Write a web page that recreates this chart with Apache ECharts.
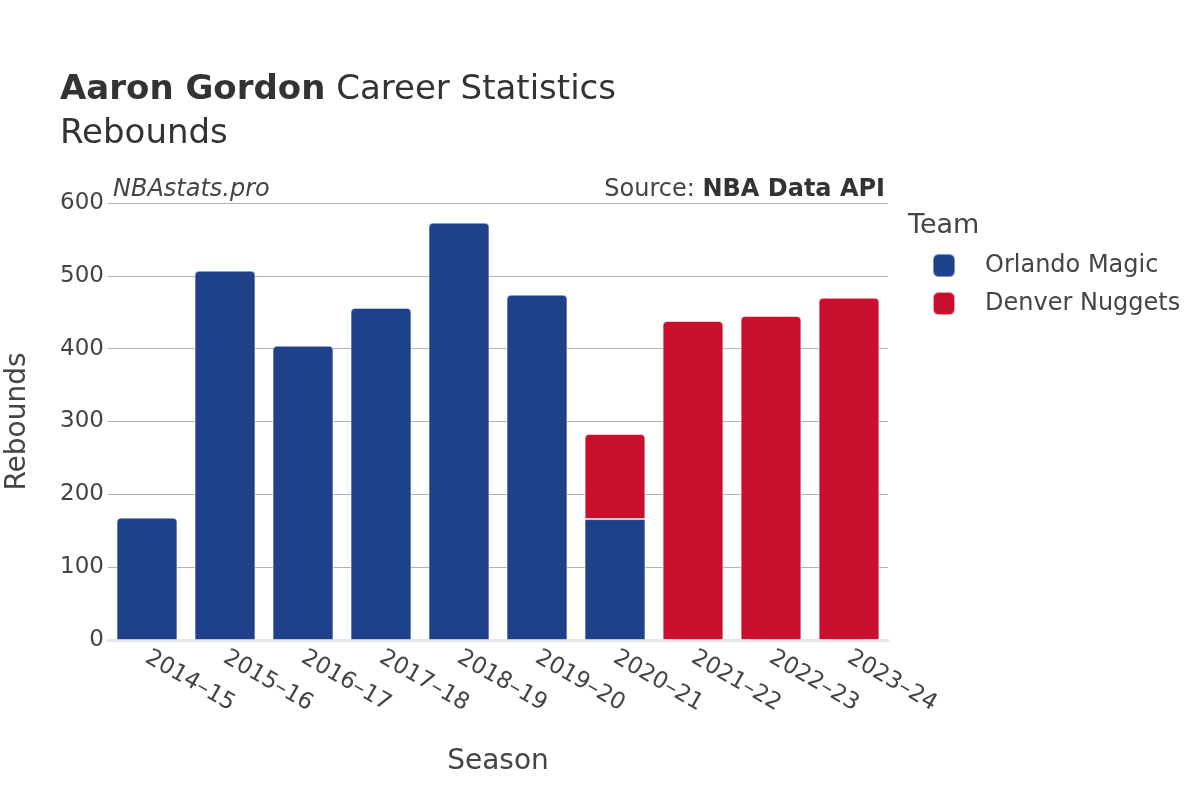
<!DOCTYPE html>
<html>
<head>
<meta charset="utf-8">
<script src="https://cdn.jsdelivr.net/npm/echarts@6/dist/echarts.min.js"></script>
<style>
html,body{margin:0;padding:0;background:#fff;}
#chart{width:1200px;height:800px;}
</style>
</head>
<body>
<div id="chart"></div>
<script>
const seasons = ['2014–15','2015–16','2016–17','2017–18','2018–19','2019–20','2020–21','2021–22','2022–23','2023–24'];
const orlandoMagic = [168, 507, 404, 456, 573, 474, 166, null, null, null];
const denverNuggets = [null, null, null, null, null, null, 117, 438, 445, 470];
const yTicks = [0, 100, 200, 300, 400, 500, 600];

const ORL = '#1d428a';
const DEN = '#c8102e';
const FONT = '"DejaVu Sans", "Open Sans", sans-serif';

function items(arr, isTopFn) {
  return arr.map((v, i) => {
    if (v === null) return null;
    return { value: v, itemStyle: { borderRadius: isTopFn(i) ? [4,4,0,0] : 0 } };
  });
}
const orlData = items(orlandoMagic, i => denverNuggets[i] === null);
const denData = items(denverNuggets, i => true);

const chart = echarts.init(document.getElementById('chart'));
chart.setOption({
  animation: false,
  textStyle: { fontFamily: FONT },
  grid: { left: 108, right: 312, top: 203, bottom: 160, containLabel: false, outerBoundsMode: 'none' },
  graphic: [
    { type: 'text', left: 60, top: 73, style: { rich: {
        b: { fontSize: 34, fontWeight: 'bold', fill: '#333', fontFamily: FONT },
        n: { fontSize: 34, fill: '#333', fontFamily: FONT } },
        text: '{b|Aaron Gordon}{n| Career Statistics}' } },
    { type: 'text', left: 60, top: 117, style: { text: 'Rebounds', fontSize: 34, fill: '#333', fontFamily: FONT } },
    { type: 'text', left: 113, top: 178, style: { text: 'NBAstats.pro', fontSize: 24, fontStyle: 'italic', fill: '#444', fontFamily: FONT } },
    { type: 'text', right: 315, top: 178, style: { rich: {
        n: { fontSize: 24, fill: '#444', fontFamily: FONT },
        b: { fontSize: 24, fontWeight: 'bold', fill: '#333', fontFamily: FONT } },
        text: '{n|Source: }{b|NBA Data API}' } },
    { type: 'text', left: 908, top: 212, style: { text: 'Team', fontSize: 27, fill: '#444', fontFamily: FONT } }
  ],
  legend: {
    orient: 'vertical', left: 927, top: 248,
    icon: 'roundRect', itemWidth: 22, itemHeight: 23, itemGap: 13,
    textStyle: { fontSize: 24, color: '#444', padding: [0,0,0,25], fontFamily: FONT },
    data: ['Orlando Magic', 'Denver Nuggets']
  },
  xAxis: {
    type: 'category', data: seasons,
    name: 'Season', nameLocation: 'middle', nameGap: 108,
    nameTextStyle: { fontSize: 28, color: '#444' },
    axisLine: { show: true, lineStyle: { color: '#e6e6e6', width: 3 } },
    axisTick: { show: false },
    axisLabel: { rotate: -30, fontSize: 23, color: '#444', margin: 16, interval: 0 }
  },
  yAxis: {
    type: 'value', min: yTicks[0], max: yTicks[yTicks.length-1], interval: 100,
    name: 'Rebounds', nameLocation: 'middle', nameGap: 76,
    nameTextStyle: { fontSize: 28, color: '#444' },
    axisLine: { show: false }, axisTick: { show: false },
    axisLabel: { fontSize: 23, color: '#444', margin: 4 },
    splitLine: { lineStyle: { color: '#b0b0b0', width: 1 } }
  },
  series: [
    { name: 'Orlando Magic', type: 'bar', stack: 'a', data: orlData, barCategoryGap: '22%',
      itemStyle: { color: ORL, borderColor: 'rgba(255,255,255,0.45)', borderWidth: 1 } },
    { name: 'Denver Nuggets', type: 'bar', stack: 'a', data: denData, barCategoryGap: '22%',
      itemStyle: { color: DEN, borderColor: 'rgba(255,255,255,0.6)', borderWidth: 1 } }
  ]
});
</script>
</body>
</html>
